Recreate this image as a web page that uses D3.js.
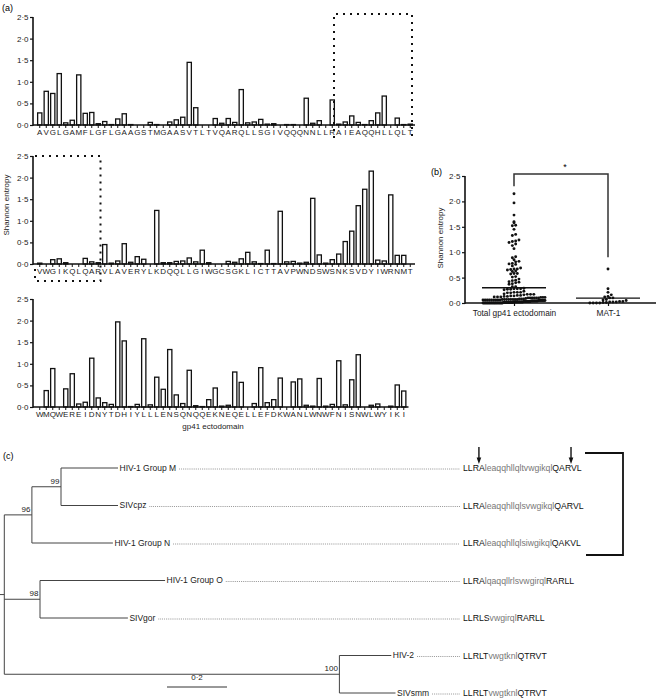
<!DOCTYPE html>
<html><head><meta charset="utf-8">
<script src="https://cdn.jsdelivr.net/npm/d3@7"></script>
<style>
body{margin:0;background:#fff;}
svg{display:block;font-family:"Liberation Sans",Arial,Helvetica,sans-serif;}
</style></head><body>
<svg id="chart" width="659" height="699"></svg>
<script>
// ---------- DATA ----------
const row1Residues = "AVGLGAMFLGFLGAAGSTMGAASVTLTVQARQLLSGIVQQQNNLLRAIEAQQHLLQLT".split("");
const row1Entropy = [0.28,0.78,0.73,1.19,0.05,0.11,1.16,0.27,0.29,0.03,
  0.08,0.01,0.14,0.26,0.01,0.0,0.0,0.06,0.01,0.0,
  0.07,0.12,0.18,1.45,0.40,0.0,0.0,0.15,0.04,0.15,
  0.06,0.82,0.05,0.07,0.13,0.02,0.03,0.0,0.01,0.01,
  0.0,0.62,0.04,0.10,0.0,0.58,0.02,0.07,0.21,0.06,
  0.01,0.10,0.28,0.67,0.0,0.16,0.01,0.02];
const row2Residues = "VWGIKQLQARVLAVERYLKDQQLLGIWGCSGKLICTTAVPWNDSWSNKSVDYIWRNMT".split("");
const row2Entropy = [0.02,0.0,0.10,0.12,0.03,0.0,0.0,0.13,0.05,0.03,
  0.45,0.02,0.07,0.47,0.04,0.17,0.11,0.0,1.24,0.03,
  0.03,0.06,0.07,0.14,0.05,0.32,0.03,0.0,0.0,0.06,
  0.04,0.12,0.27,0.05,0.01,0.32,0.01,1.22,0.05,0.06,
  0.02,0.04,1.52,0.21,0.02,0.10,0.23,0.52,0.76,1.35,
  1.73,2.15,0.09,0.07,1.60,0.20,0.20,0.0];
const row3Residues = "WMQWEREIDNYTDHIYLLLENSQNQQEKNEQELLEFDKWANLWNWFNISNWLWYIKI".split("");
const row3Entropy = [0.0,0.38,0.89,0.0,0.42,0.77,0.07,0.11,1.13,0.21,
  0.10,0.06,1.97,1.53,0.01,0.06,1.58,0.05,0.69,0.41,
  1.33,0.28,0.08,0.85,0.03,0.01,0.17,0.44,0.02,0.04,
  0.81,0.57,0.0,0.08,0.91,0.10,0.17,0.67,0.0,0.58,
  0.65,0.04,0.02,0.66,0.02,0.06,1.07,0.05,0.63,1.21,
  0.0,0.04,0.07,0.0,0.02,0.51,0.37];
const entropyTicks = [0, 0.5, 1.0, 1.5, 2.0, 2.5];
// MAT-1 region: row 1 residues 46..57 and row 2 residues 0..9
const mat1Row1From = 46;
const mat1Row2To = 10;
const groupLabels = ["Total gp41 ectodomain", "MAT-1"];

// phylogeny (flat lists)
const treeIds     = ["root","MNcpz","Mcpz","HIV-1 Group M","SIVcpz","HIV-1 Group N","Ogor","HIV-1 Group O","SIVgor","HIV2smm","HIV-2","SIVsmm"];
const treeParents = ["","root","MNcpz","Mcpz","Mcpz","MNcpz","root","Ogor","Ogor","root","HIV2smm","HIV2smm"];
const branchLengths = [0,0.092,0.097,0.19,0.19,0.27,0.119,0.417,0.293,1.117,0.173,0.187];
const bootstrap   = ["","96","99","","","","98","","","100","",""];
const leafSequences = {
  "HIV-1 Group M":"LLRAleaqqhllqltvwgikqlQARVL",
  "SIVcpz":"LLRAleaqqhllqlsvwgikqlQARVL",
  "HIV-1 Group N":"LLRAleaqqhllqlsiwgikqlQAKVL",
  "HIV-1 Group O":"LLRAlqaqqllrlsvwgirqlRARLL",
  "SIVgor":"LLRLSvwgirqlRARLL",
  "HIV-2":"LLRLTvwgtknlQTRVT",
  "SIVsmm":"LLRLTvwgtknlQTRVT"
};
const scaleBarValue = 0.2;

// ---------- DRAW ----------
const svg = d3.select("#chart");
const fmt = d => d.toFixed(1).replace(".", "\u00B7");
const FS = 8;

svg.append("text").attr("x",2).attr("y",11).attr("font-size",9).text("(a)");

const X0 = 36.5, STEP = 6.5, AXX = 33;
function drawRow(residues, values, top, bottom) {
  const g = svg.append("g");
  const x = d3.scaleBand().domain(d3.range(residues.length))
    .range([X0, X0 + residues.length*STEP]).paddingInner(0.35).paddingOuter(0.175);
  const y = d3.scaleLinear().domain([0,2.5]).range([bottom, top]);
  // bars
  g.selectAll("rect").data(values).join("rect")
    .attr("x",(d,i)=>x(i)).attr("y",d=>y(d))
    .attr("width",x.bandwidth()).attr("height",d=>y(0)-y(d))
    .attr("fill","#fff").attr("stroke","#111").attr("stroke-width",1.3);
  // y axis
  const ya = g.append("g").attr("transform",`translate(${AXX},0)`)
    .call(d3.axisLeft(y).tickValues(entropyTicks).tickFormat(fmt).tickSize(3).tickSizeOuter(0).tickPadding(1.5));
  ya.select(".domain").remove();
  ya.selectAll("line").attr("stroke","#111").attr("stroke-width",1.2);
  ya.selectAll("text").attr("font-size",FS).attr("fill","#222").style("font-family","Liberation Sans, Arial, sans-serif");
  g.append("line").attr("x1",AXX).attr("x2",AXX).attr("y1",y(2.5)).attr("y2",y(0)+0.7).attr("stroke","#111").attr("stroke-width",1.6);
  // x axis
  const xa = g.append("g").attr("transform",`translate(0,${y(0)})`)
    .call(d3.axisBottom(x).tickFormat(i=>residues[i]).tickSize(3).tickSizeOuter(0).tickPadding(1));
  xa.select(".domain").remove();
  xa.selectAll("line").attr("stroke","#111").attr("stroke-width",1);
  xa.selectAll("text").attr("font-size",FS).attr("fill","#222").style("font-family","Liberation Sans, Arial, sans-serif");
  g.append("line").attr("x1",AXX).attr("x2",x.range()[1]+1.5).attr("y1",y(0)).attr("y2",y(0)).attr("stroke","#111").attr("stroke-width",1.6);
  return {x,y,g};
}
const r1 = drawRow(row1Residues,row1Entropy,17,125);
const r2 = drawRow(row2Residues,row2Entropy,156,264);
const r3 = drawRow(row3Residues,row3Entropy,299,407);

// dotted MAT-1 boxes
const dotted = sel => sel.attr("fill","none").attr("stroke","#111").attr("stroke-width",2).attr("stroke-dasharray","2,5");
{
  const xl = X0 + mat1Row1From*STEP - 1.5, xr = X0 + row1Residues.length*STEP - 1.5;
  svg.append("path").call(dotted).attr("d",`M${xl},138 V14 H${xr} V138`);
  const xr2 = X0 + mat1Row2To*STEP - 1;
  svg.append("path").call(dotted).attr("d",`M35,${r2.y(2.5)} H${xr2} V281 H35 V268`);
}
svg.append("text").attr("font-size",FS).attr("text-anchor","middle")
  .attr("transform","translate(9,205) rotate(-90)").attr("fill","#222").text("Shannon entropy");
svg.append("text").attr("font-size",FS).attr("text-anchor","middle").attr("x",213).attr("y",429).attr("fill","#222").text("gp41 ectodomain");

// ---------- PANEL B ----------
const allValues = row1Entropy.concat(row2Entropy, row3Entropy);
const mat1Values = row1Entropy.slice(mat1Row1From).concat(row2Entropy.slice(0, mat1Row2To));
const yb = d3.scaleLinear().domain([0,2.5]).range([303,176]);
const xb = d3.scalePoint().domain(groupLabels).range([514,608]);
const BX = 465;
svg.append("text").attr("x",431).attr("y",175).attr("font-size",9).text("(b)");
{
  const ya = svg.append("g").attr("transform",`translate(${BX},0)`)
    .call(d3.axisLeft(yb).tickValues(entropyTicks).tickFormat(fmt).tickSize(3).tickSizeOuter(0).tickPadding(1.5));
  ya.select(".domain").remove();
  ya.selectAll("line").attr("stroke","#111").attr("stroke-width",1.2);
  ya.selectAll("text").attr("font-size",FS).attr("fill","#222").style("font-family","Liberation Sans, Arial, sans-serif");
  svg.append("line").attr("x1",BX).attr("x2",BX).attr("y1",yb(2.5)).attr("y2",yb(0)+0.7).attr("stroke","#111").attr("stroke-width",1.6);
  const xa = svg.append("g").attr("transform",`translate(0,${yb(0)})`)
    .call(d3.axisBottom(xb).tickSize(3).tickSizeOuter(0).tickPadding(4));
  xa.select(".domain").remove();
  xa.selectAll("line").attr("stroke","#111").attr("stroke-width",1.2);
  xa.selectAll("text").attr("font-size",8.3).attr("fill","#222").style("font-family","Liberation Sans, Arial, sans-serif");
  svg.append("line").attr("x1",BX).attr("x2",656).attr("y1",yb(0)).attr("y2",yb(0)).attr("stroke","#111").attr("stroke-width",1.6);
  svg.append("text").attr("font-size",FS).attr("text-anchor","middle")
    .attr("transform","translate(443,238) rotate(-90)").attr("fill","#222").text("Shannon entropy");

  function swarm(vals, cx) {
    const d = 3.0, maxHalf = 31;
    const pts = vals.map(v=>({v, py: yb(v)})).sort((a,b)=>a.v-b.v);
    const rows = d3.group(pts, p => Math.floor((yb(0)-p.py)/d));
    for (const [, arr] of rows) {
      const n = arr.length;
      const sp = n>1 ? Math.min(3.3, 2*maxHalf/(n-1)) : 0;
      // place alternating from centre
      const order = d3.range(n).map(k => (k-(n-1)/2));
      arr.forEach((p,k)=>{ p.px = cx + order[k]*sp; });
    }
    return pts;
  }
  [[allValues, groupLabels[0]],[mat1Values, groupLabels[1]]].forEach(([vals, lab])=>{
    const cx = xb(lab);
    svg.append("g").selectAll("circle").data(swarm(vals,cx)).join("circle")
      .attr("cx",p=>p.px).attr("cy",p=>p.py).attr("r",1.45).attr("fill","#111");
    const m = d3.mean(vals);
    svg.append("line").attr("x1",cx-32).attr("x2",cx+32).attr("y1",yb(m)).attr("y2",yb(m))
      .attr("stroke","#111").attr("stroke-width",1.3);
  });
  const xl = xb(groupLabels[0]), xr = xb(groupLabels[1]);
  svg.append("path").attr("d",`M${xl},${yb(2.3)} V174 H${xr} V${yb(0.9)}`)
    .attr("fill","none").attr("stroke","#333").attr("stroke-width",1.5);
  svg.append("text").attr("x",(xl+xr)/2+4).attr("y",170).attr("text-anchor","middle").attr("font-size",9).text("*");
}

// ---------- PANEL C ----------
svg.append("text").attr("x",3).attr("y",459).attr("font-size",9).text("(c)");
{
  const table = treeIds.map((id,i)=>({id, parent:treeParents[i], len:branchLengths[i], boot:bootstrap[i]}));
  const root = d3.stratify().id(d=>d.id).parentId(d=>d.parent||null)(table);
  const xt = d3.scaleLinear().domain([0,1]).range([4.3,304.3]);
  root.eachBefore(n=>{ n.dist = (n.parent ? n.parent.dist : 0) + n.data.len; n.px = xt(n.dist); });
  const leaves = root.leaves();
  const yt = d3.scaleLinear().domain([0, leaves.length-1]).range([468,693]);
  leaves.forEach((l,i)=>{ l.py = yt(i); });
  root.eachAfter(n=>{ if (n.children) n.py = (n.children[0].py + n.children[n.children.length-1].py)/2; });

  const tg = svg.append("g").attr("stroke","#444").attr("stroke-width",1).attr("fill","none");
  root.descendants().forEach(n=>{
    if (n.parent) tg.append("path").attr("d",`M${n.parent.px},${n.py} H${n.px}`);
    if (n.children) tg.append("path").attr("d",`M${n.px},${n.children[0].py} V${n.children[n.children.length-1].py}`);
  });
  tg.append("path").attr("d",`M${root.px-4.3},${root.py} H${root.px}`);

  root.descendants().filter(n=>n.data.boot).forEach(n=>{
    svg.append("text").attr("x",n.px-1.5).attr("y",n.py-3).attr("text-anchor","end")
      .attr("font-size",8).attr("fill","#222").text(n.data.boot);
  });

  const seqX = 463;
  let seqM = null;
  leaves.forEach(l=>{
    const t = svg.append("text").attr("x",l.px+1.5).attr("y",l.py).attr("dy","0.35em")
      .attr("font-size",8.5).attr("fill","#222").text(l.id);
    const w = t.node().getComputedTextLength();
    const lx0 = l.px + 1.5 + w + 3;
    svg.append("line").attr("x1",lx0).attr("x2",seqX-3).attr("y1",l.py+1).attr("y2",l.py+1)
      .attr("stroke","#666").attr("stroke-width",0.8).attr("stroke-dasharray","0.8,1.1");
    const s = leafSequences[l.id];
    const st = svg.append("text").attr("x",seqX).attr("y",l.py).attr("dy","0.35em").attr("font-size",8.7);
    const runs = s.match(/[A-Z]+|[a-z]+/g);
    runs.forEach(r=>{
      const up = r === r.toUpperCase();
      st.append("tspan").attr("fill", up ? "#111" : "#777").text(r);
    });
    if (l.id === "HIV-1 Group M") seqM = st;
  });

  // arrows marking MAT-1 boundaries on the Group M sequence
  const node = seqM.node();
  const a1 = node.getStartPositionOfChar(3).x;
  const a2 = node.getEndPositionOfChar(24).x;
  [a1, a2].forEach(ax=>{
    svg.append("line").attr("x1",ax).attr("x2",ax).attr("y1",447).attr("y2",458).attr("stroke","#111").attr("stroke-width",1.4);
    svg.append("path").attr("d",`M${ax-2.3},457.5 L${ax+2.3},457.5 L${ax},464 Z`).attr("fill","#111");
  });
  // bracket for HIV-1 M / SIVcpz / HIV-1 N
  svg.append("path").attr("d",`M585,453 H623 V555 H586`).attr("fill","none").attr("stroke","#111").attr("stroke-width",1.8);

  // scale bar
  const sbX = 167, sbLen = xt(scaleBarValue) - xt(0);
  svg.append("line").attr("x1",sbX).attr("x2",sbX+sbLen).attr("y1",687).attr("y2",687).attr("stroke","#333").attr("stroke-width",1);
  svg.append("text").attr("x",sbX+sbLen/2).attr("y",680).attr("text-anchor","middle").attr("font-size",8).attr("fill","#222").text(fmt(scaleBarValue));
}
</script>
</body></html>
